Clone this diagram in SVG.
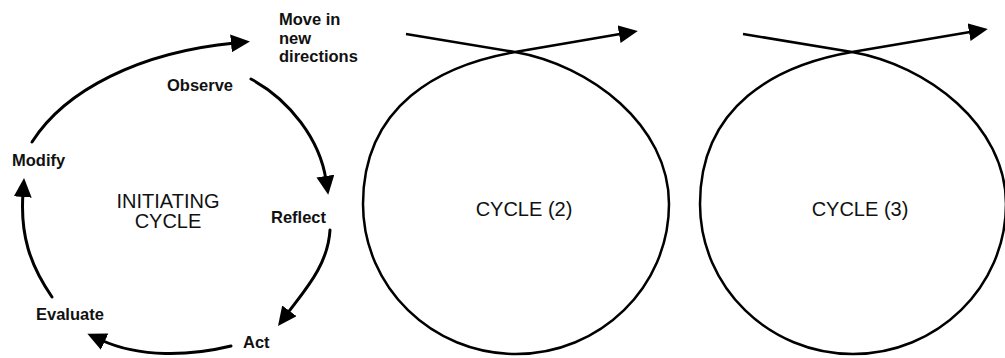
<svg xmlns="http://www.w3.org/2000/svg" width="1005" height="358" viewBox="0 0 1005 358">
  <style>
    .bg { fill: #ffffff; }
    .lbl { font-family: "Liberation Sans", Arial, sans-serif; font-weight: bold; font-size: 16.5px; fill: #111111; }
    .title { font-family: "Liberation Sans", Arial, sans-serif; font-size: 20px; fill: #111111; text-anchor: middle; }
    .arc { fill: none; stroke: #000000; stroke-width: 3; stroke-linecap: round; marker-end: url(#head); }
    .loop { fill: none; stroke: #000000; stroke-width: 2.5; stroke-linejoin: round; marker-end: url(#head); }
  </style>
  <defs>
    <marker id="head" markerUnits="userSpaceOnUse" markerWidth="20" markerHeight="20" refX="4" refY="9" orient="auto">
      <path d="M0,0 L19,9 L0,18 Z" fill="#000000"/>
    </marker>
  </defs>
  <rect class="bg" x="0" y="0" width="1005" height="358"/>

  <g id="connectors">
    <path id="modify-to-move" class="arc" d="M32,142 C 65,90 140,52 235,43"/>
    <path id="observe-to-reflect" class="arc" d="M251,79 C 290,100 320,140 326,180"/>
    <path id="reflect-to-act" class="arc" d="M330,230 C 328,265 305,290 287,314"/>
    <path id="act-to-evaluate" class="arc" d="M231,346 C 190,356 140,358 101,340"/>
    <path id="evaluate-to-modify" class="arc" d="M52,297 C 30,265 20,235 23,193"/>
  </g>

  <g id="initiating-cycle">
    <text class="title" x="168" y="208">INITIATING</text>
    <text class="title" x="168" y="228">CYCLE</text>
  </g>
  <g id="observe"><text class="lbl" x="167" y="91">Observe</text></g>
  <g id="reflect"><text class="lbl" x="271" y="223">Reflect</text></g>
  <g id="act"><text class="lbl" x="243" y="348">Act</text></g>
  <g id="evaluate"><text class="lbl" x="36" y="320">Evaluate</text></g>
  <g id="modify"><text class="lbl" x="12" y="166">Modify</text></g>
  <g id="move-in-new-directions">
    <text class="lbl" x="279" y="25">Move in</text>
    <text class="lbl" x="279" y="43.5">new</text>
    <text class="lbl" x="279" y="62">directions</text>
  </g>

  <g id="cycle-2">
    <path class="loop" d="M406,34 L515,52 C 590,65 669,125 669,204 C 669,287 600,354 516,354 C 432,354 363,287 363,204 C 363,105 440,65 515,52 L623,33.5"/>
    <text class="title" x="524" y="216">CYCLE (2)</text>
  </g>
  <g id="cycle-3">
    <path class="loop" d="M743,34 L852,52 C 927,65 1006,125 1006,204 C 1006,287 937,354 853,354 C 769,354 700,287 700,204 C 700,105 777,65 852,52 L973,31.5"/>
    <text class="title" x="860" y="216">CYCLE (3)</text>
  </g>
</svg>
